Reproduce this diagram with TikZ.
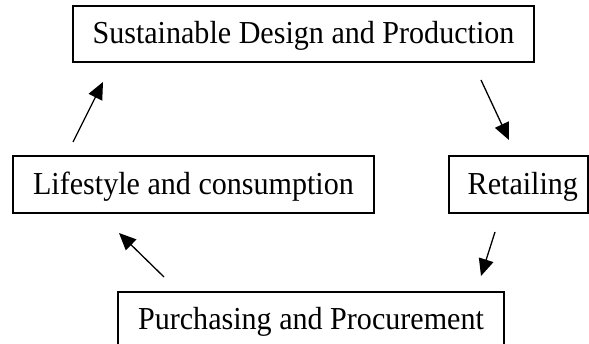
\documentclass[tikz,border=0pt]{standalone}
\usepackage{fontspec}
\setmainfont{Liberation Serif}
\usetikzlibrary{arrows.meta}
\newcommand{\stagetext}[1]{\scalebox{0.94}[1]{#1}}
\begin{document}
\begin{tikzpicture}[x=1pt,y=-1pt,
  stagebox/.style={draw=black, line width=1.3pt, rectangle, inner sep=0pt,
    minimum height=56pt, text height=22pt, text depth=2pt,
    font=\fontsize{32}{38}\selectfont},
  flow/.style={line width=1.3pt, -{Triangle[length=17pt,width=15pt]}}]
\useasboundingbox (0,0) rectangle (589,344);
\node[stagebox, minimum width=461pt] (design) at (303.5,34) {\stagetext{Sustainable Design and Production}};
\node[stagebox, minimum width=361pt, minimum height=57pt] (life) at (193.5,184.5) {\stagetext{Lifestyle and consumption}};
\node[stagebox, minimum width=139pt, minimum height=57pt, inner xsep=10pt] (retail) at (518.5,184.5) {\makebox[119pt][r]{\stagetext{Retailing}}};
\node[stagebox, minimum width=386pt] (purchase) at (311,320) {\stagetext{Purchasing and Procurement}};
\coordinate (a1s) at (73,142);
\coordinate (a1e) at (103,82);
\coordinate (a2s) at (481,80);
\coordinate (a2e) at (509,140);
\coordinate (a3s) at (495,232);
\coordinate (a3e) at (481,276);
\coordinate (a4s) at (164,277);
\coordinate (a4e) at (119,233);
\draw[flow] (a1s) -- (a1e);
\draw[flow] (a2s) -- (a2e);
\draw[flow] (a3s) -- (a3e);
\draw[flow] (a4s) -- (a4e);
\end{tikzpicture}
\end{document}
